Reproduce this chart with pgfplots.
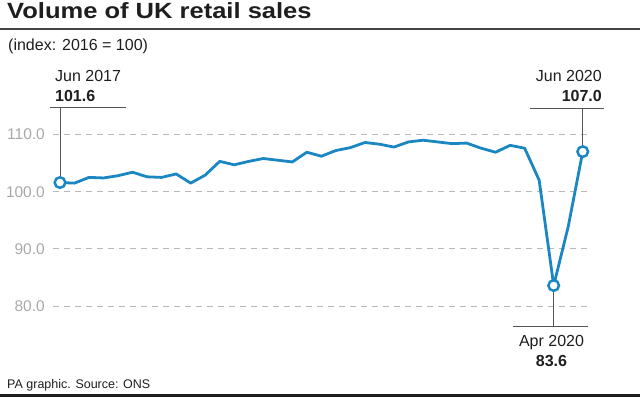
\documentclass[border=0pt]{standalone}
\usepackage{fontspec}
\setmainfont{Liberation Sans}
\newfontfamily\titlefont[FakeStretch=1.16]{Liberation Sans}
\usepackage{pgfplots}
\pgfplotsset{compat=1.18}
\definecolor{pablue}{HTML}{1A87C3}
\definecolor{txt}{HTML}{1E1E1E}
\definecolor{ticktxt}{HTML}{A8A8A8}
\definecolor{gridc}{HTML}{B8B8B8}
\definecolor{annot}{HTML}{555555}
\pgfplotstableread{
x y
0 101.6
1 101.5
2 102.5
3 102.4
4 102.8
5 103.4
6 102.6
7 102.5
8 103.1
9 101.5
10 102.9
11 105.3
12 104.7
13 105.3
14 105.8
15 105.5
16 105.2
17 106.9
18 106.2
19 107.2
20 107.7
21 108.6
22 108.3
23 107.8
24 108.7
25 109.0
26 108.7
27 108.4
28 108.5
29 107.6
30 106.9
31 108.1
32 107.6
33 102.0
34 83.6
35 93.9
36 107.0
}\sales
\begin{document}
\begin{tikzpicture}[x=1pt,y=1pt]
\useasboundingbox (0,0) rectangle (640,397);
\begin{axis}[
  at={(53pt,68pt)}, anchor=south west,
  scale only axis, width=537pt, height=217.4pt,
  xmin=-0.482, xmax=36.5, ymin=76, ymax=114,
  axis line style={draw=none},
  tick style={draw=none},
  xtick=\empty,
  ytick={80,90,100,110},
  yticklabels={80.0,90.0,100.0,110.0},
  yticklabel style={font=\fontsize{15.5}{15.5}\selectfont, text=ticktxt, inner sep=0pt, xshift=-8pt},
  ymajorgrids,
  grid style={gridc, line width=0.9pt, dash pattern=on 6pt off 5pt},
  clip=false,
]
\addplot[pablue, line width=2.8pt, line join=round] table[x=x,y=y] {\sales};
\addplot[only marks, mark=*, mark size=5.3pt, mark options={fill=white, draw=pablue, line width=2.5pt}] coordinates {(0,101.6) (34,83.6) (36,107.0)};
\end{axis}
% title and rules
\node[anchor=base west, inner sep=0pt, text=txt] at (7,378) {\titlefont\fontsize{22}{22}\selectfont\bfseries Volume of UK retail sales};
\draw[annot!80!black, line width=1.3pt] (0,368) -- (640,368);
\node[anchor=base west, inner sep=0pt, text=txt] at (8,346) {\fontsize{16}{16}\selectfont (index: 2016 = 100)};
\node[anchor=base west, inner sep=0pt, text=txt] at (7,8.7) {\fontsize{12.5}{12.5}\selectfont PA graphic. Source: ONS};
\draw[txt, line width=3pt] (0,1.5) -- (640,1.5);
% Jun 2017
\node[anchor=base west, inner sep=0pt, text=txt] at (55,315.3) {\fontsize{16}{16}\selectfont Jun 2017};
\node[anchor=base west, inner sep=0pt, text=txt] at (55,295.3) {\fontsize{16}{16}\selectfont\bfseries 101.6};
\draw[annot, line width=1pt] (50,289) -- (126,289);
\draw[annot, line width=1pt] (60,289) -- (60,221);
% Jun 2020
\node[anchor=base east, inner sep=0pt, text=txt] at (602,315.3) {\fontsize{16}{16}\selectfont Jun 2020};
\node[anchor=base east, inner sep=0pt, text=txt] at (602,295.3) {\fontsize{16}{16}\selectfont\bfseries 107.0};
\draw[annot, line width=1pt] (530,288) -- (604,288);
\draw[annot, line width=1pt] (582.7,288) -- (582.7,252);
% Apr 2020
\draw[annot, line width=1pt] (553.7,105) -- (553.7,70.3);
\draw[annot, line width=1pt] (513,70.3) -- (588,70.3);
\node[anchor=base, inner sep=0pt, text=txt] at (551.5,50.3) {\fontsize{16}{16}\selectfont Apr 2020};
\node[anchor=base, inner sep=0pt, text=txt] at (551.5,30.3) {\fontsize{16}{16}\selectfont\bfseries 83.6};
\end{tikzpicture}
\end{document}
